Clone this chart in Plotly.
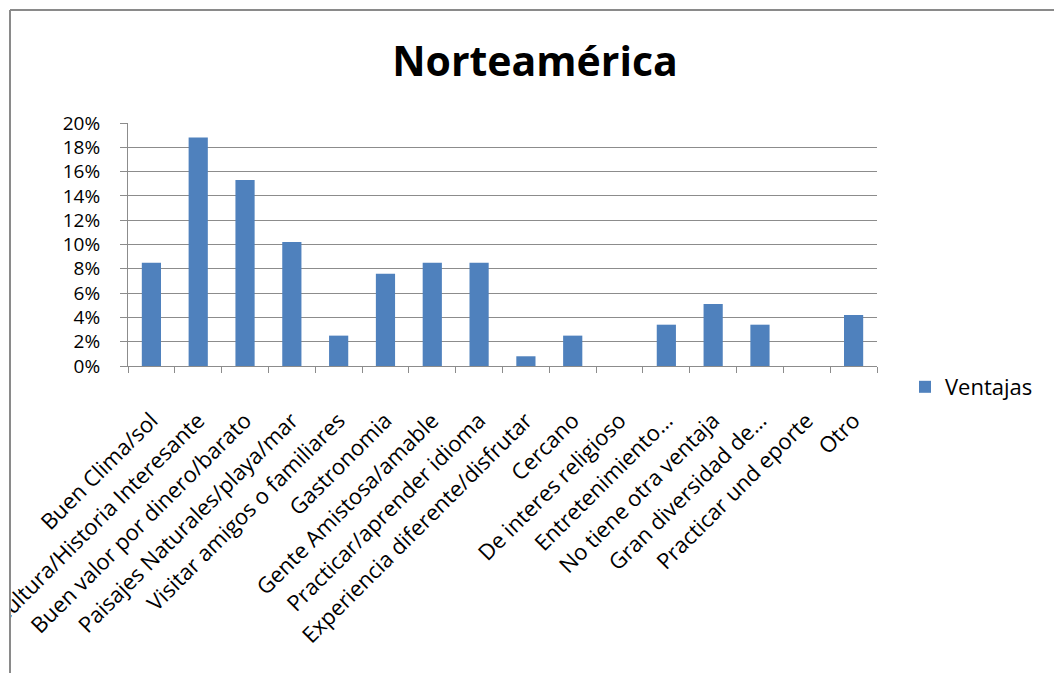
import plotly.graph_objects as go

# Ventajas de viajar a Norteamérica (proporción de respuestas)
categorias = [
    "Buen Clima/sol",
    "Cultura/Historia Interesante",
    "Buen valor por dinero/barato",
    "Paisajes Naturales/playa/mar",
    "Visitar amigos o familiares",
    "Gastronomia",
    "Gente Amistosa/amable",
    "Practicar/aprender idioma",
    "Experiencia diferente/disfrutar",
    "Cercano",
    "De interes religioso",
    "Entretenimiento…",
    "No tiene otra ventaja",
    "Gran diversidad de…",
    "Practicar und eporte",
    "Otro",
]
ventajas = [0.085, 0.188, 0.153, 0.102, 0.025, 0.076, 0.085, 0.085,
            0.008, 0.025, 0.0, 0.034, 0.051, 0.034, 0.0, 0.042]
y_ticks = [0, 0.02, 0.04, 0.06, 0.08, 0.10, 0.12, 0.14, 0.16, 0.18, 0.20]

W, H = 1054, 673
ML, MR, MT, MB = 128, 177, 123, 307
FONT = "'Open Sans', Lato, sans-serif"
GRID = "#8c8c8c"

fig = go.Figure()
fig.add_trace(go.Bar(
    x=categorias,
    y=ventajas,
    name="Ventajas",
    marker=dict(color="#4f81bd", line=dict(width=0)),
))

pw = W - ML - MR
ph = H - MT - MB


def px_x(p):
    return (p - ML) / pw


def px_y(p):
    return (H - MB - p) / ph


fig.update_layout(
    width=W, height=H,
    margin=dict(l=ML, r=MR, t=MT, b=MB),
    paper_bgcolor="white", plot_bgcolor="white",
    font=dict(family=FONT, size=22, color="black"),
    bargap=0.59,
    showlegend=True,
    title=dict(text="<b>Norteamérica</b>", x=535 / W, xref="container",
               xanchor="center", y=1 - 62 / H, yanchor="middle",
               font=dict(family=FONT, size=41, color="black")),
    legend=dict(x=px_x(905), y=px_y(387), xanchor="left", yanchor="middle",
                font=dict(size=22), bgcolor="rgba(0,0,0,0)", itemwidth=30),
    xaxis=dict(
        tickangle=-45, ticks="outside", tickson="boundaries", ticklen=6,
        tickcolor=GRID, showline=True, linecolor=GRID, linewidth=1,
        showgrid=False, automargin=False, tickfont=dict(size=22),
        ticklabelstandoff=32,
    ),
    yaxis=dict(
        range=[0, 0.2], tickvals=y_ticks, tickformat=".0%",
        ticks="outside", ticklen=7, tickcolor=GRID,
        showline=True, linecolor=GRID, linewidth=1,
        showgrid=True, gridcolor=GRID, gridwidth=1,
        zeroline=False, automargin=False, tickfont=dict(size=19),
        ticklabelstandoff=16,
    ),
    shapes=[
        # white strip hiding label overflow on the left of the chart frame
        dict(type="rect", xref="paper", yref="paper",
             x0=px_x(-5), x1=px_x(10), y0=px_y(H + 5), y1=px_y(-5),
             fillcolor="white", line=dict(width=0), layer="above"),
        # chart frame (left and top edges visible)
        dict(type="line", xref="paper", yref="paper",
             x0=px_x(10), x1=px_x(10), y0=px_y(10), y1=px_y(H + 5),
             line=dict(color="#8a8a8a", width=2), layer="above"),
        dict(type="line", xref="paper", yref="paper",
             x0=px_x(10), x1=px_x(W + 5), y0=px_y(10), y1=px_y(10),
             line=dict(color="#8a8a8a", width=2), layer="above"),
    ],
)

fig.write_html("out.html")
